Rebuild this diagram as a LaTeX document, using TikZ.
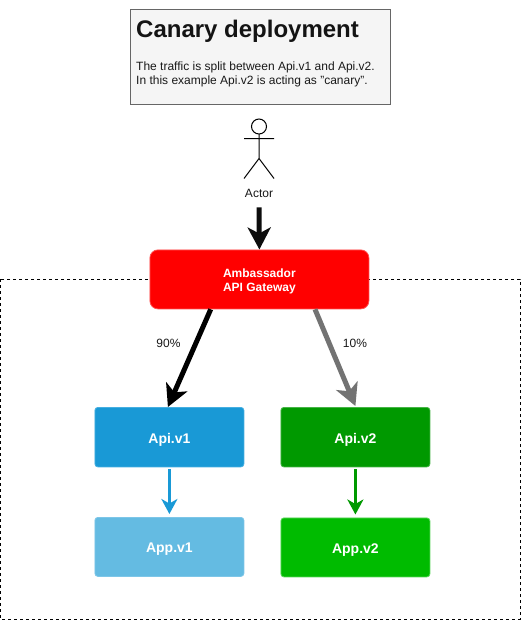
\documentclass[tikz,border=0pt]{standalone}
\usepackage{fontspec}
\setmainfont{Liberation Sans}
\usetikzlibrary{arrows.meta,calc}
\definecolor{apiblue}{RGB}{25,153,214}
\definecolor{apiblueedge}{RGB}{70,175,225}
\definecolor{appblue}{RGB}{100,187,226}
\definecolor{appblueedge}{RGB}{125,198,232}
\definecolor{apigreen}{RGB}{0,153,0}
\definecolor{apigreenedge}{RGB}{70,180,70}
\definecolor{appgreen}{RGB}{0,187,0}
\definecolor{appgreenedge}{RGB}{90,215,90}
\definecolor{gwedge}{RGB}{255,80,80}
\tikzset{
  box/.style={rounded corners=#1,anchor=north west,inner sep=0pt,line width=0.8pt,align=center,text=white,text depth=0pt,text height=12pt,font=\fontsize{14}{16}\selectfont\bfseries},
  lbl/.style={inner sep=0pt,text=black!90,font=\fontsize{12}{14}\selectfont},
  bigarrow/.style={line width=5pt,-{Stealth[length=22pt,width=23pt,inset=6pt]}},
  smallarrow/.style={line width=3.3pt,-{Stealth[length=15pt,width=16pt,inset=4.5pt]}},
  stick/.style={draw=black,line width=1pt},
}
\begin{document}
\begin{tikzpicture}[x=1pt,y=-1pt]
\useasboundingbox (0.5,0.5) rectangle (522.5,621.5);
\fill[white] (0.5,0.5) rectangle (522.5,621.5);
% dashed zone
\draw[black,line width=1pt,dash pattern=on 3pt off 3pt] (0.5,279.5) rectangle (520.5,619.5);
% note
\node[draw=black!60,fill=black!4,line width=1pt,anchor=north west,minimum width=260pt,minimum height=95pt,inner sep=0pt] (note) at (130.5,9.5) {};
\node[anchor=west,inner sep=0pt,text=black!92,font=\fontsize{24}{28}\selectfont\bfseries] (title) at (136.5,31.5) {Canary deployment};
\node[anchor=north west,inner sep=0pt,text=black!90,align=left,font=\fontsize{12}{14.6}\selectfont] (desc) at (136.5,62) {The traffic is split between Api.v1 and Api.v2.\\In this example Api.v2 is acting as "canary".};
% actor
\draw[stick] (259.5,127) circle (7.5);
\draw[stick] (259.5,134.5) -- (259.5,159) (244.5,139) -- (274.5,139) (244.5,179) -- (259.5,159) -- (274.5,179);
\node[lbl,font=\fontsize{12}{14}\selectfont] (actor) at (259.5,194) {Actor};
% boxes
\node[box=8pt,draw=gwedge,fill=red,minimum width=219pt,minimum height=59pt,text height=24.6pt,font=\fontsize{12}{14}\selectfont\bfseries] (gw) at (150,250) {Ambassador\\API Gateway};
\node[box=3pt,draw=apiblueedge,fill=apiblue,minimum width=149pt,minimum height=59.5pt] (api1) at (95,407.5) {Api.v1};
\node[box=3pt,draw=apigreenedge,fill=apigreen,minimum width=149pt,minimum height=59.5pt] (api2) at (281,407.5) {Api.v2};
\node[box=3pt,draw=appblueedge,fill=appblue,minimum width=149pt,minimum height=59pt] (app1) at (95,517.5) {App.v1};
\node[box=3pt,draw=appgreenedge,fill=appgreen,minimum width=149pt,minimum height=59pt] (app2) at (281,518) {App.v2};
% connectors
\coordinate (gwL) at ($(gw.south west)!0.2785!(gw.south east)$);
\coordinate (gwR) at ($(gw.south west)!0.753!(gw.south east)$);
\draw[bigarrow,black!95] (actor.south) ++(0,9.5) -- (gw.north);
\draw[bigarrow,black] (gwL) -- ($(api1.north)+(-1.5,0)$);
\draw[bigarrow,black!55] (gwR) -- ($(api2.north)+(0,-1)$);
\draw[smallarrow,apiblue] ($(api1.south)+(0,2)$) -- ($(app1.north)+(0,-3)$);
\draw[smallarrow,apigreen] ($(api2.south)+(0,2)$) -- ($(app2.north)+(0,-3)$);
% edge labels
\node[lbl] (p90) at (169,344) {90\%};
\node[lbl] (p10) at (355.5,344) {10\%};
\end{tikzpicture}
\end{document}
